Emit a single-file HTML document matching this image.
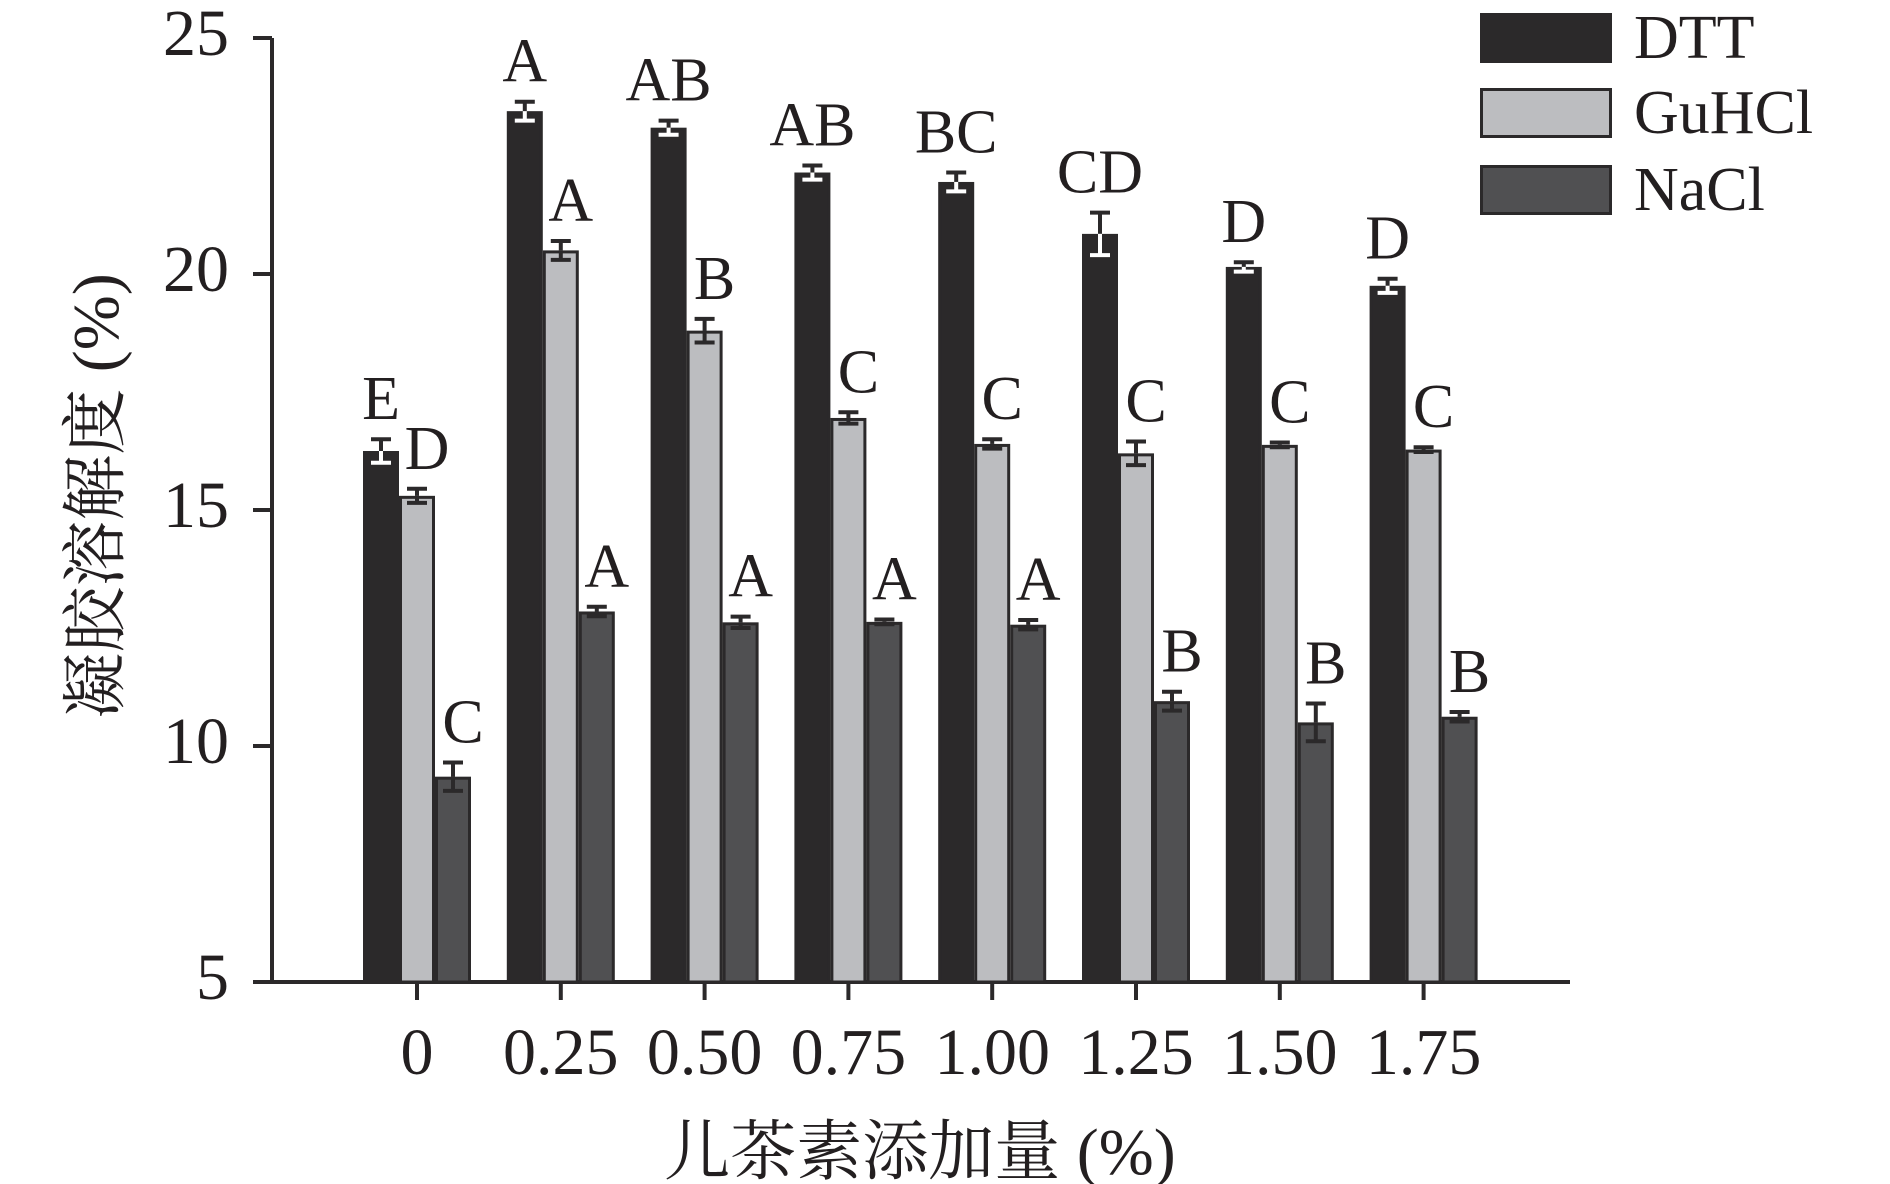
<!DOCTYPE html>
<html><head><meta charset="utf-8"><style>
html,body{margin:0;padding:0;background:#fff;}
svg{display:block;}
svg text{font-family:"Liberation Serif","Times New Roman","Noto Serif CJK SC",serif !important;fill:#231f20;}
</style></head><body>
<svg id="chart" width="1890" height="1184" viewBox="0 0 1890 1184" xmlns="http://www.w3.org/2000/svg" font-family="Liberation Serif, Noto Serif CJK SC, serif">
<g id="axes"></g>
<g id="bars"></g>
<g id="legend"></g>
<text transform="translate(118,496) rotate(-90)" text-anchor="middle" font-size="66" font-family="Liberation Serif, Noto Serif CJK SC, serif">凝胶溶解度 (%)</text>
<text x="920" y="1174" text-anchor="middle" font-size="66" font-family="Liberation Serif, Noto Serif CJK SC, serif">儿茶素添加量 (%)</text>
</svg>
<script>
const categories = ["0","0.25","0.50","0.75","1.00","1.25","1.50","1.75"];
const seriesNames = ["DTT","GuHCl","NaCl"];
const dttValues = [16.25,23.45,23.1,22.15,21.95,20.85,20.15,19.75];
const guhclValues = [15.3,20.5,18.8,16.95,16.4,16.2,16.38,16.28];
const naclValues = [9.35,12.85,12.62,12.63,12.57,10.95,10.5,10.62];
const dttErrors = [0.25,0.2,0.15,0.15,0.2,0.45,0.1,0.15];
const guhclErrors = [0.15,0.2,0.25,0.12,0.1,0.25,0.05,0.05];
const naclErrors = [0.3,0.1,0.12,0.05,0.1,0.2,0.4,0.1];
const dttLetters = ["E","A","AB","AB","BC","CD","D","D"];
const guhclLetters = ["D","A","B","C","C","C","C","C"];
const naclLetters = ["C","A","A","A","A","B","B","B"];
const yTicks = [5,10,15,20,25];

const NS="http://www.w3.org/2000/svg";
const FF="Liberation Serif, Noto Serif CJK SC, serif";
const X0=272, XEND=1570, Y5=982, Y25=38, TICK0=417, STEP=143.8, BW=36;
const fills=["#2b292a","#bcbdc0","#505052"];
function y(v){return Y5-(v-5)*(Y5-Y25)/20;}
function xc(i){return TICK0+i*STEP;}
function mk(tag,attrs,parent){const e=document.createElementNS(NS,tag);for(const k in attrs)e.setAttribute(k,attrs[k]);parent.appendChild(e);return e;}
const axes=document.getElementById('axes'), bars=document.getElementById('bars'), legend=document.getElementById('legend');

const series=[[dttValues,dttErrors,dttLetters],[guhclValues,guhclErrors,guhclLetters],[naclValues,naclErrors,naclLetters]];
series.forEach((s,si)=>{
  s[0].forEach((v,i)=>{
    const left=xc(i)-1.5*BW+si*BW, top=y(v), cx=left+BW/2;
    const r=mk('rect',{x:left+1.5,y:top+1.5,width:BW-3,height:Y5-top-1.5,fill:fills[si],stroke:'#2b292a','stroke-width':3},bars);
    
    
    const e=s[1][i], yt=y(v+e), yb=y(v-e);
    const g=mk('g',{},bars);
    
    
    const col='#2b292a';
    mk('line',{x1:cx,x2:cx,y1:yt,y2:Math.min(yb,top),stroke:col,'stroke-width':4},g);
    mk('line',{x1:cx-10,x2:cx+10,y1:yt,y2:yt,stroke:col,'stroke-width':4},g);
    const inner=si===0?'#ffffff':col;
    mk('line',{x1:cx,x2:cx,y1:Math.max(top,yt),y2:yb,stroke:inner,'stroke-width':4},g);
    mk('line',{x1:cx-10,x2:cx+10,y1:yb,y2:yb,stroke:inner,'stroke-width':4},g);
    const t=mk('text',{x:cx+(si===0?0:10),y:yt-20,'text-anchor':'middle','font-size':62,'font-family':FF},bars);
    t.textContent=s[2][i];
    
    
  });
});

const ya=mk('line',{x1:X0,x2:X0,y1:Y25,y2:Y5+2,stroke:'#2b292a','stroke-width':4},axes);


const xa=mk('line',{x1:253,x2:XEND,y1:Y5,y2:Y5,stroke:'#2b292a','stroke-width':4},axes);


yTicks.forEach(v=>{
  mk('line',{x1:253,x2:X0,y1:y(v),y2:y(v),stroke:'#2b292a','stroke-width':4},axes);
  const t=mk('text',{x:229,y:y(v)+17,'text-anchor':'end','font-size':66,'font-family':FF},axes);
  t.textContent=v;
  
  
});
categories.forEach((c,i)=>{
  mk('line',{x1:xc(i),x2:xc(i),y1:Y5,y2:Y5+18,stroke:'#2b292a','stroke-width':4},axes);
  const t=mk('text',{x:xc(i),y:1074,'text-anchor':'middle','font-size':66,'font-family':FF},axes);
  t.textContent=c;
  
  
});
const legY=[13,88,165];
seriesNames.forEach((n,si)=>{
  const r=mk('rect',{x:1481.5,y:legY[si]+1.5,width:129,height:47,fill:fills[si],stroke:'#2b292a','stroke-width':3},legend);
  
  
  const t=mk('text',{x:1634,y:legY[si]+45,'font-size':62,'font-family':FF},legend);
  t.textContent=n;
  
  
});
</script>
</body></html>
